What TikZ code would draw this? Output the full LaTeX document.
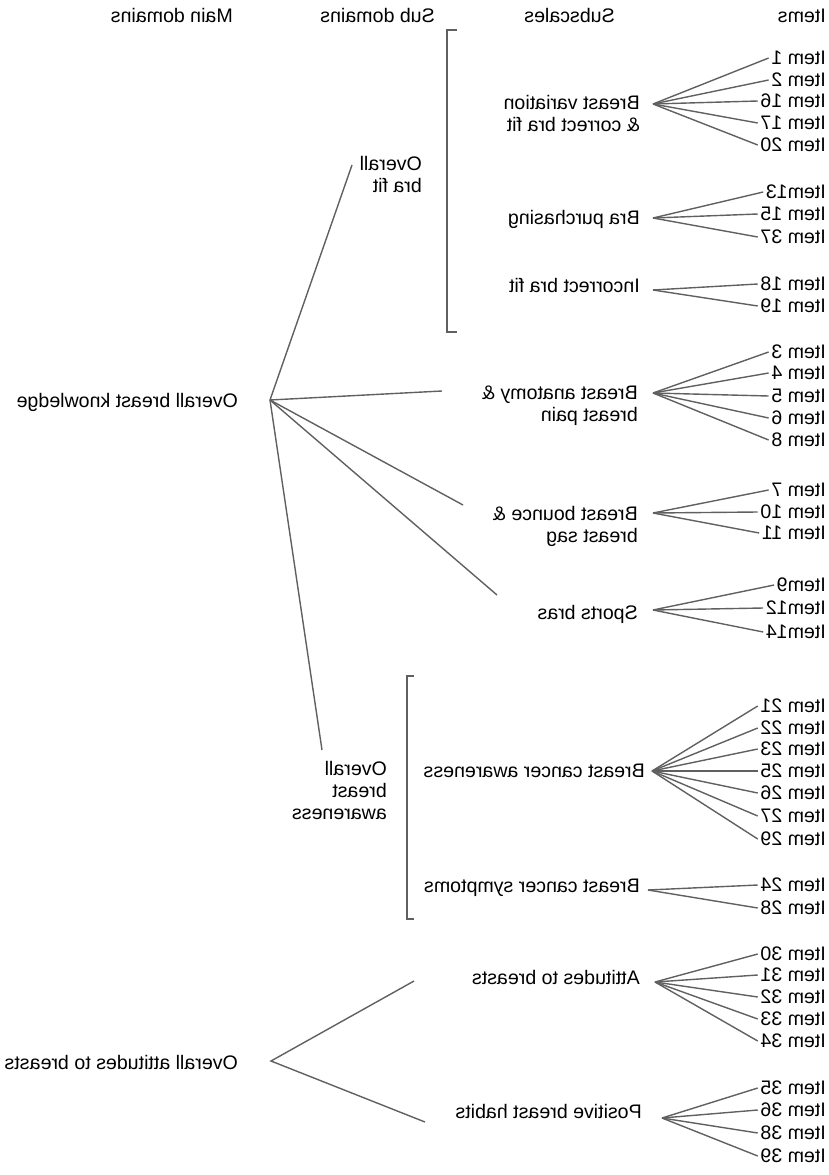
\documentclass[tikz,border=0pt]{standalone}
\usepackage{fontspec}
\setmainfont{Liberation Sans}
\usepackage{graphicx}
\definecolor{linegray}{HTML}{606060}
\newcommand{\mirror}[1]{\reflectbox{#1}}
\newcommand{\mirrorlines}[1]{\reflectbox{\begin{tabular}[t]{@{}l@{}}#1\end{tabular}}}
\tikzset{
  lab/.style={inner sep=0pt, anchor=base east},
  item/.style={inner xsep=2.5pt, inner ysep=0pt, anchor=east},
  link/.style={draw=linegray, line width=1.4pt},
}
\begin{document}
\begin{tikzpicture}[x=1pt, y=-1pt, font=\fontsize{19.6}{22}\selectfont]
  \useasboundingbox (0,0) rectangle (829,1175);
  % column heads
  \node[lab] (hmain) at (233,22) {\mirror{Main domains}};
  \node[lab] (hsub) at (435,22) {\mirror{Sub domains}};
  \node[lab] (hscale) at (615,22) {\mirror{Subscales}};
  \node[lab] (hitem) at (826,22) {\mirror{Items}};

  % main domains
  \node[lab] (know) at (238,407) {\mirror{Overall breast knowledge}};
  \node[lab] (att) at (238,1069) {\mirror{Overall attitudes to breasts}};
  \coordinate (knowfan) at (270,400);
  \coordinate (attfan) at (271,1061);

  % sub domains
  \node[lab] (brafit) at (422,170) {\mirrorlines{Overall\\bra fit}};
  \node[lab] (aware) at (387,775) {\mirrorlines{Overall\\breast\\awareness}};
  \draw[link] (457,30) -- (447,30) -- (447,332) -- (457,332);
  \draw[link] (414,676) -- (407,676) -- (407,919) -- (414,919);

  \coordinate (kbf) at (352,165);
  \coordinate (kba) at (442,391);
  \coordinate (kbb) at (463,505);
  \coordinate (ksb) at (497,595);
  \coordinate (kaw) at (322,750);
  \coordinate (aat) at (414,981);
  \coordinate (apb) at (425,1122);
  \foreach \e in {kbf,kba,kbb,ksb,kaw}
    \draw[link] (knowfan) -- (\e);
  \draw[link] (apb) -- (attfan) -- (aat);

  % subscales
  \node[lab] (bv) at (640,109) {\mirrorlines{Breast variation\\\& correct bra fit}};
  \node[lab] (bp) at (640,224) {\mirror{Bra purchasing}};
  \node[lab] (ib) at (640,292) {\mirror{Incorrect bra fit}};
  \node[lab] (ba) at (638,399) {\mirrorlines{Breast anatomy \&\\breast pain}};
  \node[lab] (bb) at (638,520) {\mirrorlines{Breast bounce \&\\breast sag}};
  \node[lab] (sb) at (638,619) {\mirror{Sports bras}};
  \node[lab] (bca) at (645,777) {\mirror{Breast cancer awareness}};
  \node[lab] (bcs) at (640,892) {\mirror{Breast cancer symptoms}};
  \node[lab] (ab) at (640,984) {\mirror{Attitudes to breasts}};
  \node[lab] (pb) at (642,1118) {\mirror{Positive breast habits}};

  \coordinate (bvfan) at (653,104);
  \coordinate (bpfan) at (653,218);
  \coordinate (ibfan) at (653,290);
  \coordinate (bafan) at (653,393);
  \coordinate (bbfan) at (653,513);
  \coordinate (sbfan) at (653,610);
  \coordinate (bcafan) at (652,771);
  \coordinate (bcsfan) at (648,890);
  \coordinate (abfan) at (655,982);
  \coordinate (pbfan) at (662,1118);

  % items
  \foreach \n/\t/\y in {1/Item 1/58, 2/Item 2/80, 16/Item 16/101, 17/Item 17/123, 20/Item 20/145}{
    \node[item] (i\n) at (828.5,\y) {\mirror{\t}};
    \draw[link] (bvfan) -- (i\n.west);
  }
  \foreach \n/\t/\y in {13/Item13/192, 15/Item 15/214, 37/Item 37/237}{
    \node[item] (i\n) at (828.5,\y) {\mirror{\t}};
    \draw[link] (bpfan) -- (i\n.west);
  }
  \foreach \n/\t/\y in {18/Item 18/284, 19/Item 19/306}{
    \node[item] (i\n) at (828.5,\y) {\mirror{\t}};
    \draw[link] (ibfan) -- (i\n.west);
  }
  \foreach \n/\t/\y in {3/Item 3/352, 4/Item 4/373, 5/Item 5/396, 6/Item 6/418, 8/Item 8/440}{
    \node[item] (i\n) at (828.5,\y) {\mirror{\t}};
    \draw[link] (bafan) -- (i\n.west);
  }
  \foreach \n/\t/\y in {7/Item 7/490, 10/Item 10/512, 11/Item 11/533}{
    \node[item] (i\n) at (828.5,\y) {\mirror{\t}};
    \draw[link] (bbfan) -- (i\n.west);
  }
  \foreach \n/\t/\y in {9/Item9/585, 12/Item12/608, 14/Item14/632}{
    \node[item] (i\n) at (828.5,\y) {\mirror{\t}};
    \draw[link] (sbfan) -- (i\n.west);
  }
  \foreach \n/\t/\y in {21/Item 21/706, 22/Item 22/728, 23/Item 23/749, 25/Item 25/771,
                        26/Item 26/793, 27/Item 27/816, 29/Item 29/839}{
    \node[item] (i\n) at (828.5,\y) {\mirror{\t}};
    \draw[link] (bcafan) -- (i\n.west);
  }
  \foreach \n/\t/\y in {24/Item 24/885, 28/Item 28/908}{
    \node[item] (i\n) at (828.5,\y) {\mirror{\t}};
    \draw[link] (bcsfan) -- (i\n.west);
  }
  \foreach \n/\t/\y in {30/Item 30/954, 31/Item 31/975, 32/Item 32/997, 33/Item 33/1019, 34/Item 34/1041}{
    \node[item] (i\n) at (828.5,\y) {\mirror{\t}};
    \draw[link] (abfan) -- (i\n.west);
  }
  \foreach \n/\t/\y in {35/Item 35/1088, 36/Item 36/1110, 38/Item 38/1133, 39/Item 39/1156}{
    \node[item] (i\n) at (828.5,\y) {\mirror{\t}};
    \draw[link] (pbfan) -- (i\n.west);
  }
\end{tikzpicture}
\end{document}
